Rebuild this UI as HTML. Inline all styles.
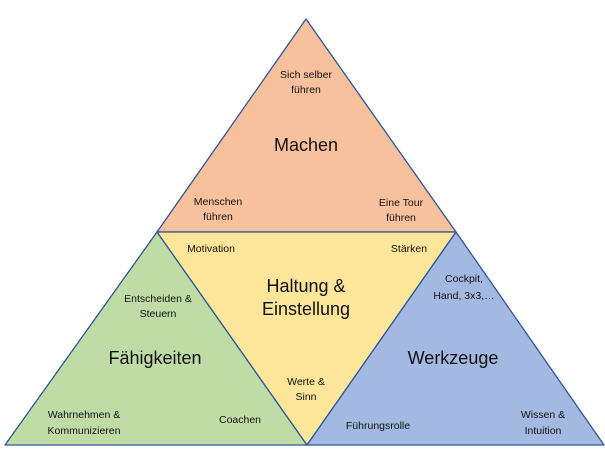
<!DOCTYPE html>
<html><head><meta charset="utf-8"><style>
html,body{margin:0;padding:0;background:#fff;width:605px;height:449px;overflow:hidden}
svg text{font-family:"Liberation Sans",sans-serif;fill:#111;text-anchor:middle}
.s{font-size:10.5px}
.b{font-size:18px}
</style></head><body>
<svg width="605" height="449" viewBox="0 0 605 449">
<g stroke="#2f5597" stroke-width="1.3" stroke-linejoin="round">
<polygon points="306,19 157,232 456,232" fill="#f8c19e"/>
<polygon points="157,232 5,445 307,445" fill="#c0dca6"/>
<polygon points="157,232 456,232 307,445" fill="#fde59a"/>
<polygon points="456,232 307,445 604,445" fill="#a3b9e2"/>
</g>
<text class="s" x="306" y="78">Sich selber</text>
<text class="s" x="306" y="93">führen</text>
<text class="b" x="306" y="151">Machen</text>
<text class="s" x="218" y="205">Menschen</text>
<text class="s" x="218" y="220">führen</text>
<text class="s" x="401" y="206">Eine Tour</text>
<text class="s" x="401" y="221">führen</text>
<text class="s" x="211" y="252">Motivation</text>
<text class="s" x="409" y="252">Stärken</text>
<text class="b" x="306" y="292">Haltung &amp;</text>
<text class="b" x="306" y="315">Einstellung</text>
<text class="s" x="158" y="302">Entscheiden &amp;</text>
<text class="s" x="158" y="317">Steuern</text>
<text class="b" x="155" y="364">Fähigkeiten</text>
<text class="s" x="84" y="418">Wahrnehmen &amp;</text>
<text class="s" x="84" y="434">Kommunizieren</text>
<text class="s" x="240" y="423">Coachen</text>
<text class="s" x="306" y="385">Werte &amp;</text>
<text class="s" x="306" y="400">Sinn</text>
<text class="s" x="464" y="282">Cockpit,</text>
<text class="s" x="464" y="299">Hand, 3x3,…</text>
<text class="b" x="453" y="364">Werkzeuge</text>
<text class="s" x="378" y="429">Führungsrolle</text>
<text class="s" x="543" y="418">Wissen &amp;</text>
<text class="s" x="543" y="434">Intuition</text>
</svg>
</body></html>
